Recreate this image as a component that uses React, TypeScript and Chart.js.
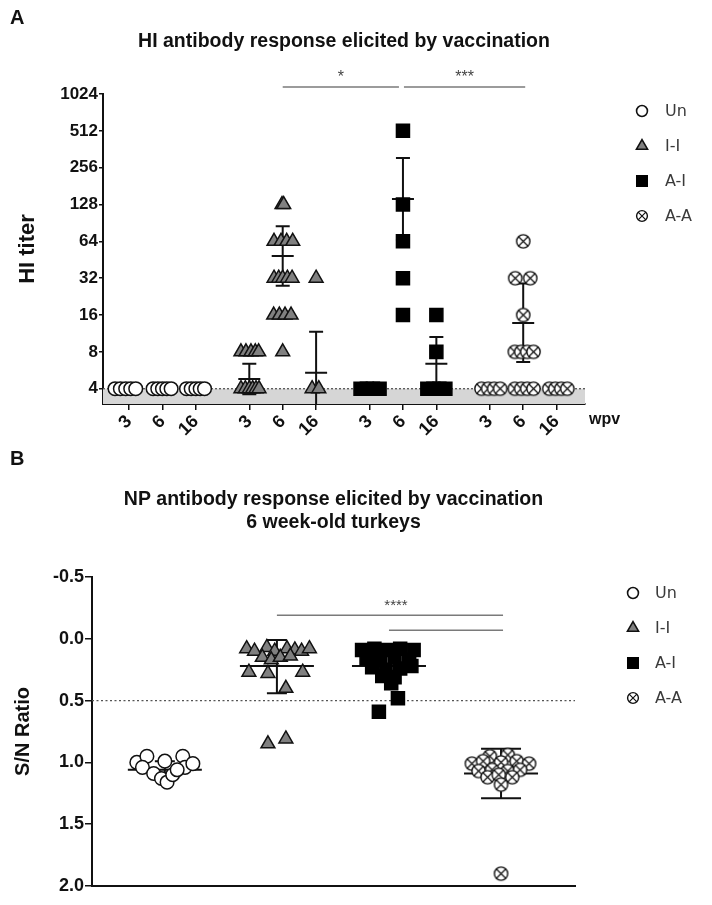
import React, { useEffect, useRef } from 'react';
import { Chart, registerables } from 'chart.js';
import { drawPoint } from 'chart.js/helpers';

Chart.register(...registerables);

const FONT = "'Liberation Sans', Arial, Helvetica, sans-serif";
const LEGEND_FONT = "'DejaVu Sans', 'Liberation Sans', sans-serif";

const GROUPS = ['Un', 'I-I', 'A-I', 'A-A'];
const WPV_LABELS = ['3', '6', '16'];
const HI_TICKS = [4, 8, 16, 32, 64, 128, 256, 512, 1024];
const HI_LIMIT = 4;
const SN_CUTOFF = 0.5;
const HI_TITLE = 'HI antibody response elicited by vaccination';
const SN_TITLE = ['NP antibody response elicited by vaccination', '6 week-old turkeys'];

// Panel A: [horizontal jitter, HI titer] for each group, per wpv (3, 6, 16)
const hiUn = [
  [[-0.42, 4], [-0.26, 4], [-0.1, 4], [0.05, 4], [0.2, 4]],
  [[-0.28, 4], [-0.14, 4], [0, 4], [0.13, 4], [0.26, 4]],
  [[-0.28, 4], [-0.14, 4], [0, 4], [0.13, 4], [0.26, 4]],
];
const hiII = [
  [[-0.25, 4], [-0.12, 4], [0, 4], [0.1, 4], [0.2, 4], [0.29, 4], [-0.25, 8], [-0.1, 8], [0.05, 8], [0.18, 8], [0.28, 8]],
  [[-0.02, 128], [0.03, 128], [-0.26, 64], [-0.05, 64], [0.12, 64], [0.3, 64], [-0.26, 32], [-0.12, 32], [0, 32], [0.14, 32], [0.28, 32], [-0.27, 16], [-0.1, 16], [0.07, 16], [0.25, 16], [0, 8]],
  [[0, 32], [-0.12, 4], [0.08, 4]],
];
const hiAI = [
  [[-0.27, 4], [-0.08, 4], [0.1, 4], [0.3, 4]],
  [[0, 512], [0, 128], [0, 64], [0, 32], [0, 16]],
  [[0, 16], [0, 8], [-0.27, 4], [-0.09, 4], [0.09, 4], [0.27, 4]],
];
const hiAA = [
  [[-0.25, 4], [-0.05, 4], [0.13, 4], [0.31, 4]],
  [[0, 64], [-0.24, 32], [0.21, 32], [0, 16], [-0.25, 8], [-0.06, 8], [0.12, 8], [0.31, 8], [-0.25, 4], [-0.06, 4], [0.12, 4], [0.31, 4]],
  [[-0.22, 4], [-0.04, 4], [0.14, 4], [0.32, 4]],
];
// geometric mean and SD limits per group per wpv (null = no bar)
const hiMean = [[null, null, null], [4.8, 48.5, 5.4], [null, 142, 6.4], [null, 13.8, null]];
const hiUpper = [[null, null, null], [6.4, 85, 11.7], [null, 307, 10.6], [null, 29, null]];
const hiLower = [[null, null, null], [3.6, 27.7, 2.5], [null, 66, 3.9], [null, 6.6, null]];
// significance: [group, wpv] -> [group, wpv]
const hiSig = [
  { from: [1, 1], to: [2, 1], label: '*' },
  { from: [2, 1], to: [3, 1], label: '***' },
];

// Panel B: [horizontal jitter, S/N ratio] per group
const snUn = [[-0.25, 1.0], [-0.16, 0.95], [-0.2, 1.04], [-0.1, 1.09], [-0.03, 1.13], [0, 0.99], [0.02, 1.16], [0.07, 1.1], [0.16, 0.95], [0.18, 1.04], [0.25, 1.01], [0.11, 1.06]];
const snII = [
  [-0.27, 0.08], [-0.2, 0.1], [-0.09, 0.07], [-0.02, 0.1], [0.09, 0.08], [0.16, 0.09], [0.22, 0.1], [0.29, 0.08],
  [-0.13, 0.15], [-0.05, 0.17], [0.03, 0.15], [0.12, 0.14],
  [-0.25, 0.27], [-0.08, 0.28], [0.23, 0.27],
  [0.08, 0.4], [-0.08, 0.85], [0.08, 0.81],
];
const snAI = [
  [-0.24, 0.09], [-0.13, 0.08], [-0.02, 0.09], [0.1, 0.08], [0.22, 0.09],
  [-0.2, 0.16], [-0.08, 0.17], [0.05, 0.15], [0.18, 0.17],
  [-0.15, 0.23], [-0.03, 0.25], [0.1, 0.24], [0.2, 0.22],
  [-0.06, 0.3], [0.05, 0.31], [0.02, 0.36],
  [0.08, 0.48], [-0.09, 0.59],
];
const snAA = [
  [-0.1, 0.95], [0.06, 0.94],
  [-0.26, 1.01], [-0.16, 0.99], [0, 1.0], [0.14, 0.99], [0.25, 1.01],
  [-0.2, 1.07], [-0.08, 1.06], [0.06, 1.07], [0.17, 1.06],
  [-0.12, 1.12], [0.1, 1.12], [-0.02, 1.1],
  [0, 1.18],
  [0, 1.9],
];
const snMean = [1.06, 0.22, 0.22, 1.09];
const snSdLow = [0.99, 0.01, 0.1, 0.89];
const snSdHigh = [1.13, 0.44, 0.34, 1.29];
const snSig = [
  { from: 1, to: 3, level: -0.19, label: '****' },
  { from: 2, to: 3, level: -0.07, label: '' },
];

const GROUP_STEP = 3.6;
const SN_CAP_HALF = [10, 10, 10, 20];

function makeCrossCircle(d: number) {
  const c = document.createElement('canvas');
  const s = Math.ceil(d + 2);
  c.width = s;
  c.height = s;
  const ctx = c.getContext('2d')!;
  const r = d / 2;
  const m = s / 2;
  ctx.fillStyle = '#fff';
  ctx.strokeStyle = '#111';
  ctx.lineWidth = 1.4;
  ctx.beginPath();
  ctx.arc(m, m, r - 0.6, 0, Math.PI * 2);
  ctx.fill();
  ctx.stroke();
  const k = (r - 0.6) * 0.72;
  ctx.lineWidth = 1.2;
  ctx.beginPath();
  ctx.moveTo(m - k, m - k);
  ctx.lineTo(m + k, m + k);
  ctx.moveTo(m + k, m - k);
  ctx.lineTo(m - k, m + k);
  ctx.stroke();
  return c;
}

function groupStyles(aaImg: HTMLCanvasElement) {
  return [
    { pointStyle: 'circle', bg: '#ffffff', border: '#111', radius: 6.8 },
    { pointStyle: 'triangle', bg: '#808080', border: '#111', radius: 8 },
    { pointStyle: 'rect', bg: '#000000', border: '#000', radius: 9.2 },
    { pointStyle: aaImg, bg: '#ffffff', border: '#111', radius: 7 },
  ];
}

function drawLegend(ctx: CanvasRenderingContext2D, styles: any[], mx: number, tx: number, y0: number, dy: number) {
  styles.forEach((st, i) => {
    const y = y0 + i * dy;
    ctx.save();
    ctx.fillStyle = st.bg;
    ctx.strokeStyle = st.border;
    ctx.lineWidth = 1.6;
    drawPoint(ctx, { pointStyle: st.legendStyle || st.pointStyle, radius: st.radius * 0.8, borderWidth: 1.6, rotation: 0 }, mx, y);
    ctx.restore();
    ctx.fillStyle = '#3a3a3a';
    ctx.font = `16px ${LEGEND_FONT}`;
    ctx.textAlign = 'left';
    ctx.textBaseline = 'middle';
    ctx.fillText(GROUPS[i], tx, y + 1);
  });
}

function errorBar(ctx: CanvasRenderingContext2D, xc: number, yMean: number, yA: number, yB: number, meanHalf: number, capHalf: number) {
  ctx.beginPath();
  ctx.moveTo(xc, yA);
  ctx.lineTo(xc, yB);
  ctx.moveTo(xc - capHalf, yA);
  ctx.lineTo(xc + capHalf, yA);
  ctx.moveTo(xc - capHalf, yB);
  ctx.lineTo(xc + capHalf, yB);
  ctx.moveTo(xc - meanHalf, yMean);
  ctx.lineTo(xc + meanHalf, yMean);
  ctx.stroke();
}

export default function App() {
  const refA = useRef<HTMLCanvasElement>(null);
  const refB = useRef<HTMLCanvasElement>(null);

  useEffect(() => {
    Chart.defaults.font.family = FONT;
    const aaImg = makeCrossCircle(14.5);
    const aaLegend = makeCrossCircle(12);
    const styles = groupStyles(aaImg);
    const legendStyles = styles.map((s, i) => (i === 3 ? { ...s, legendStyle: aaLegend } : s));

    const hiData = [hiUn, hiII, hiAI, hiAA];
    const snData = [snUn, snII, snAI, snAA];
    const hiTickPos: number[] = [];
    GROUPS.forEach((_, g) => WPV_LABELS.forEach((__, t) => hiTickPos.push(g * GROUP_STEP + t)));

    const axisFont = { size: 17, weight: 'bold' as const };

    const hiDecor = {
      id: 'hiDecor',
      beforeDatasetsDraw(chart: any) {
        const { ctx, chartArea: a, scales: { x, y } } = chart;
        const yCut = y.getPixelForValue(HI_LIMIT);
        ctx.save();
        ctx.fillStyle = '#d6d6d6';
        ctx.fillRect(a.left, yCut, a.right - a.left, a.bottom - yCut);
        ctx.setLineDash([2, 2]);
        ctx.strokeStyle = '#555';
        ctx.lineWidth = 1.3;
        ctx.beginPath();
        ctx.moveTo(a.left, yCut);
        ctx.lineTo(a.right, yCut);
        ctx.stroke();
        ctx.setLineDash([]);
        ctx.beginPath();
        ctx.rect(a.left, a.top, a.right - a.left, a.bottom - a.top);
        ctx.clip();
        ctx.strokeStyle = '#111';
        ctx.lineWidth = 2;
        hiMean.forEach((row, g) => row.forEach((m, t) => {
          if (m == null) return;
          const xc = x.getPixelForValue(g * GROUP_STEP + t);
          errorBar(ctx, xc, y.getPixelForValue(m), y.getPixelForValue(hiUpper[g][t] as number), y.getPixelForValue(hiLower[g][t] as number), 11, 7);
        }));
        ctx.restore();
      },
      afterDraw(chart: any) {
        const { ctx, chartArea: a, scales: { x } } = chart;
        ctx.save();
        ctx.strokeStyle = '#7a7a7a';
        ctx.lineWidth = 1.5;
        ctx.fillStyle = '#444';
        ctx.font = `16px ${FONT}`;
        ctx.textAlign = 'center';
        ctx.textBaseline = 'middle';
        const ly = a.top - 7;
        hiSig.forEach((s, i) => {
          const x1 = x.getPixelForValue(s.from[0] * GROUP_STEP + s.from[1]) + (i === 0 ? 0 : 1);
          const x2 = x.getPixelForValue(s.to[0] * GROUP_STEP + s.to[1]) - (i === 0 ? 4 : -2);
          ctx.beginPath();
          ctx.moveTo(x1, ly);
          ctx.lineTo(x2, ly);
          ctx.stroke();
          ctx.fillText(s.label, (x1 + x2) / 2, ly - 9);
        });
        ctx.fillStyle = '#111';
        ctx.font = `bold 20px ${FONT}`;
        ctx.textAlign = 'left';
        ctx.textBaseline = 'alphabetic';
        ctx.fillText('A', 10, 24);
        ctx.font = `bold 16px ${FONT}`;
        ctx.textBaseline = 'middle';
        ctx.fillText('wpv', a.right + 4, a.bottom + 16);
        drawLegend(ctx, legendStyles, 642, 665, 111, 35);
        ctx.restore();
      },
    };

    const chartA = new Chart(refA.current!, {
      type: 'scatter',
      data: {
        datasets: GROUPS.map((name, g) => ({
          label: name,
          data: hiData[g].flatMap((pts, t) => pts.map(([dx, v]) => ({ x: g * GROUP_STEP + t + dx, y: v }))),
          pointStyle: styles[g].pointStyle as any,
          pointRadius: styles[g].radius,
          pointHoverRadius: styles[g].radius,
          pointBackgroundColor: styles[g].bg,
          pointBorderColor: styles[g].border,
          pointBorderWidth: 1.5,
        })),
      },
      options: {
        responsive: false,
        animation: false,
        events: [],
        layout: { padding: { left: 0, right: 127, top: 0, bottom: 0 } },
        plugins: {
          legend: { display: false },
          tooltip: { enabled: false },
          title: {
            display: true,
            text: HI_TITLE,
            fullSize: false,
            color: '#111',
            font: { size: 19.5, weight: 'bold', lineHeight: 1.2 },
            padding: { top: 30.3, bottom: 40.3 },
          },
        },
        scales: {
          x: {
            type: 'linear',
            min: -0.78,
            max: 13.65,
            afterBuildTicks: (s: any) => { s.ticks = hiTickPos.map((v) => ({ value: v })); },
            afterFit: (s: any) => { s.height = 41; },
            ticks: {
              autoSkip: false,
              minRotation: 45,
              maxRotation: 45,
              padding: 1,
              color: '#111',
              font: { size: 18, weight: 'bold' },
              callback: (_v: any, i: number) => WPV_LABELS[i % 3],
            },
            grid: { display: true, drawOnChartArea: false, drawTicks: true, tickLength: 6, color: '#111', lineWidth: 1.5 },
            border: { display: true, color: '#111', width: 2 },
          },
          y: {
            type: 'logarithmic',
            min: 3,
            max: 1024,
            afterBuildTicks: (s: any) => { s.ticks = HI_TICKS.map((v) => ({ value: v })); },
            afterFit: (s: any) => { s.width = 103; },
            ticks: { padding: 1, color: '#111', font: axisFont, callback: (v: any) => String(v) },
            grid: { display: true, drawOnChartArea: false, drawTicks: true, tickLength: 4, color: '#111', lineWidth: 1.5 },
            border: { display: true, color: '#111', width: 2 },
            title: { display: true, text: 'HI titer', color: '#111', font: { size: 22, weight: 'bold' }, padding: { top: 15 } },
          },
        },
      },
      plugins: [hiDecor],
    } as any);

    const snDecor = {
      id: 'snDecor',
      beforeDatasetsDraw(chart: any) {
        const { ctx, chartArea: a, scales: { x, y } } = chart;
        ctx.save();
        const yc = y.getPixelForValue(SN_CUTOFF);
        ctx.setLineDash([2, 2.5]);
        ctx.strokeStyle = '#555';
        ctx.lineWidth = 1.3;
        ctx.beginPath();
        ctx.moveTo(a.left, yc);
        ctx.lineTo(a.right, yc);
        ctx.stroke();
        ctx.setLineDash([]);
        ctx.strokeStyle = '#111';
        ctx.lineWidth = 2;
        snMean.forEach((m, g) => {
          const xc = x.getPixelForValue(g);
          errorBar(ctx, xc, y.getPixelForValue(m), y.getPixelForValue(snSdLow[g]), y.getPixelForValue(snSdHigh[g]), 37, SN_CAP_HALF[g]);
        });
        ctx.restore();
      },
      afterDraw(chart: any) {
        const { ctx, scales: { x, y } } = chart;
        ctx.save();
        ctx.strokeStyle = '#7a7a7a';
        ctx.lineWidth = 1.5;
        ctx.fillStyle = '#444';
        ctx.font = `15px ${FONT}`;
        ctx.textAlign = 'center';
        ctx.textBaseline = 'middle';
        snSig.forEach((s) => {
          const x1 = x.getPixelForValue(s.from);
          const x2 = x.getPixelForValue(s.to) + 2;
          const ly = y.getPixelForValue(s.level);
          ctx.beginPath();
          ctx.moveTo(x1, ly);
          ctx.lineTo(x2, ly);
          ctx.stroke();
          if (s.label) ctx.fillText(s.label, (x1 + x2) / 2 + 6, ly - 9);
        });
        ctx.fillStyle = '#111';
        ctx.font = `bold 20px ${FONT}`;
        ctx.textAlign = 'left';
        ctx.textBaseline = 'alphabetic';
        ctx.fillText('B', 10, 20);
        drawLegend(ctx, legendStyles, 633, 655, 148, 35);
        ctx.restore();
      },
    };

    const chartB = new Chart(refB.current!, {
      type: 'scatter',
      data: {
        datasets: GROUPS.map((name, g) => ({
          label: name,
          data: snData[g].map(([dx, v]) => ({ x: g + dx, y: v })),
          pointStyle: styles[g].pointStyle as any,
          pointRadius: styles[g].radius,
          pointHoverRadius: styles[g].radius,
          pointBackgroundColor: styles[g].bg,
          pointBorderColor: styles[g].border,
          pointBorderWidth: 1.5,
        })),
      },
      options: {
        responsive: false,
        animation: false,
        events: [],
        layout: { padding: { left: 0, right: 137, top: 0, bottom: 0 } },
        plugins: {
          legend: { display: false },
          tooltip: { enabled: false },
          title: {
            display: true,
            text: SN_TITLE,
            fullSize: false,
            color: '#111',
            font: { size: 19.5, weight: 'bold', lineHeight: 1.18 },
            padding: { top: 43.5, bottom: 42.5 },
          },
        },
        scales: {
          x: {
            type: 'linear',
            min: -0.65,
            max: 3.66,
            afterFit: (s: any) => { s.height = 19; },
            ticks: { display: false },
            grid: { display: true, drawOnChartArea: false, drawTicks: false },
            border: { display: true, color: '#111', width: 2 },
          },
          y: {
            type: 'linear',
            reverse: true,
            min: -0.5,
            max: 2.0,
            afterFit: (s: any) => { s.width = 92; },
            ticks: { stepSize: 0.5, padding: 1, color: '#111', font: { size: 18, weight: 'bold' }, callback: (v: any) => Number(v).toFixed(1) },
            grid: { display: true, drawOnChartArea: false, drawTicks: true, tickLength: 7, color: '#111', lineWidth: 1.5 },
            border: { display: true, color: '#111', width: 2 },
            title: { display: true, text: 'S/N Ratio', color: '#111', font: { size: 20, weight: 'bold' }, padding: { top: 11 } },
          },
        },
      },
      plugins: [snDecor],
    } as any);

    return () => {
      chartA.destroy();
      chartB.destroy();
    };
  }, []);

  return (
    <div style={{ position: 'absolute', left: 0, top: 0, width: 712, height: 905, background: '#fff' }}>
      <canvas ref={refA} width={712} height={445} style={{ position: 'absolute', left: 0, top: 0 }} />
      <canvas ref={refB} width={712} height={460} style={{ position: 'absolute', left: 0, top: 445 }} />
    </div>
  );
}
